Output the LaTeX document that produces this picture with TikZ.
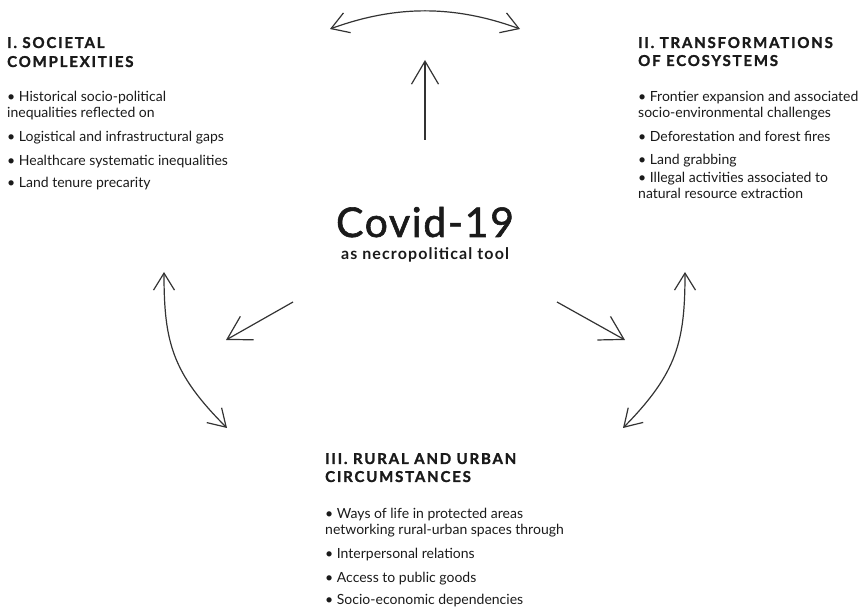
\documentclass[tikz,border=0pt]{standalone}
\usepackage{fontspec}
\setmainfont{Lato}
\newfontfamily\headfont{Lato}[LetterSpace=12,FakeBold=1.5]
\newfontfamily\covidfont{Lato}[LetterSpace=4,FakeBold=1.4]
\newfontfamily\subfont{Lato}[LetterSpace=7]
\usetikzlibrary{arrows.meta}
\definecolor{ink}{HTML}{1A1A1A}
\definecolor{arrowc}{HTML}{333333}
\tikzset{
  head/.style={anchor=base west, inner sep=0pt, text=ink, font=\fontsize{15}{18}\headfont\bfseries},
  body/.style={anchor=base west, inner sep=0pt, text=ink, font=\fontsize{14}{16}\selectfont},
  arc/.style={draw=arrowc, line width=1.2pt, {Straight Barb[length=17pt,width=21pt]}-{Straight Barb[length=17pt,width=21pt]}},
  straight/.style={draw=arrowc, line width=1.2pt, -{Straight Barb[length=23pt,width=27pt]}}
}
\begin{document}
\begin{tikzpicture}[x=1pt,y=-1pt]
\useasboundingbox (0,0) rectangle (865,609);
% centre
\node[anchor=base, inner sep=0pt, text=ink, font=\fontsize{41}{46}\covidfont] (covid) at (425,237) {Covid-19};
\node[anchor=base, inner sep=0pt, text=ink, font=\fontsize{16}{18}\subfont\bfseries] (tool) at (425,260) {as necropolitical tool};
% block I
\node[head] (h1a) at (7,48) {I. SOCIETAL};
\node[head] (h1b) at (7,67) {COMPLEXITIES};
\node[body] (l1) at (7,102) {• Historical socio-political};
\node[body] (l2) at (7,118) {inequalities reflected on};
\node[body] (l3) at (7,142) {• Logistical and infrastructural gaps};
\node[body] (l4) at (7,166) {• Healthcare systematic inequalities};
\node[body] (l5) at (7,188) {• Land tenure precarity};
% block II
\node[head] (h2a) at (638,48) {II. TRANSFORMATIONS};
\node[head] (h2b) at (638,66) {OF ECOSYSTEMS};
\node[body] (r1) at (638,102) {• Frontier expansion and associated};
\node[body] (r2) at (638,118) {socio-environmental challenges};
\node[body] (r3) at (638,142) {• Deforestation and forest fires};
\node[body] (r4) at (638,165) {• Land grabbing};
\node[body] (r5) at (638,183) {• Illegal activities associated to};
\node[body] (r6) at (638,199) {natural resource extraction};
% block III
\node[head] (h3a) at (325,464) {III. RURAL AND URBAN};
\node[head] (h3b) at (325,482) {CIRCUMSTANCES};
\node[body] (b1) at (325,518) {• Ways of life in protected areas};
\node[body] (b2) at (325,534) {networking rural-urban spaces through};
\node[body] (b3) at (325,558) {• Interpersonal relations};
\node[body] (b4) at (325,582) {• Access to public goods};
\node[body] (b5) at (325,604) {• Socio-economic dependencies};
% arrow end points
\coordinate (ta) at (330,29);
\coordinate (tb) at (520,29);
\coordinate (va) at (425,140);
\coordinate (vb) at (425,60);
\coordinate (la) at (164,272);
\coordinate (lb) at (227,428);
\coordinate (ra) at (685,272);
\coordinate (rb) at (623,428);
\coordinate (sla) at (293,302);
\coordinate (slb) at (226,340);
\coordinate (sra) at (557,302);
\coordinate (srb) at (625,340);
% arrows
\draw[arc] (ta) .. controls (396,5) and (454,5) .. (tb);
\draw[straight] (va) -- (vb);
\draw[arc] (la) .. controls (164,342) and (172,373) .. (lb);
\draw[arc] (ra) .. controls (685,342) and (677,373) .. (rb);
\draw[straight] (sla) -- (slb);
\draw[straight] (sra) -- (srb);
\end{tikzpicture}
\end{document}
